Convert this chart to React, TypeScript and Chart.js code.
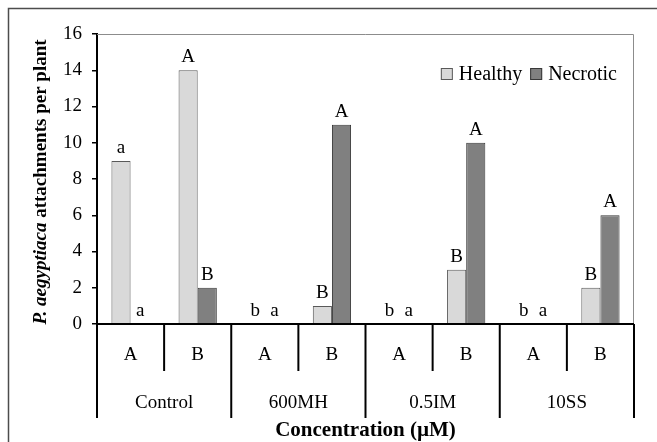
import React, { useEffect, useRef } from "react";
import { Chart, registerables } from "chart.js";

Chart.register(...registerables);

const categories = ["A", "B", "A", "B", "A", "B", "A", "B"];
const groups = ["Control", "600MH", "0.5IM", "10SS"];
const healthy = [9, 14, 0, 1, 0, 3, 0, 2];
const necrotic = [0, 2, 0, 11, 0, 10, 0, 6];
const healthyLetters = ["a", "A", "b", "B", "b", "B", "b", "B"];
const necroticLetters = ["a", "B", "a", "A", "a", "A", "a", "A"];
const seriesNames = ["Healthy", "Necrotic"];
const yMin = 0;
const yMax = 16;
const yStep = 2;
const yTitleItalic = "P. aegyptiaca";
const yTitleRest = " attachments per plant";
const xTitle = "Concentration (\u00b5M)";

const SERIF = "'Liberation Serif', 'Times New Roman', serif";
const HEALTHY_FILL = "#d9d9d9";
const HEALTHY_BORDER = "#595959";
const NECROTIC_FILL = "#808080";
const NECROTIC_BORDER = "#383838";

const decorPlugin = {
  id: "decor",
  afterDatasetsDraw(chart: any) {
    const ctx = chart.ctx as CanvasRenderingContext2D;
    const area = chart.chartArea;
    const x = chart.scales.x;
    const n = categories.length;
    const slot = (area.right - area.left) / n;

    ctx.save();
    // outer frame (top & left visible)
    ctx.strokeStyle = "#4d4d4d";
    ctx.lineWidth = 1.5;
    ctx.beginPath();
    ctx.moveTo(8.5, chart.height + 2);
    ctx.lineTo(8.5, 8.5);
    ctx.lineTo(chart.width + 2, 8.5);
    ctx.stroke();

    // plot area top/right border
    ctx.strokeStyle = "#8c8c8c";
    ctx.lineWidth = 1;
    ctx.beginPath();
    ctx.moveTo(area.left, area.top + 0.5);
    ctx.lineTo(area.right - 0.5, area.top + 0.5);
    ctx.lineTo(area.right - 0.5, area.bottom);
    ctx.stroke();

    // zero line and table lines
    ctx.strokeStyle = "#000";
    ctx.lineWidth = 2;
    ctx.beginPath();
    ctx.moveTo(area.left, area.bottom);
    ctx.lineTo(area.right, area.bottom);
    ctx.stroke();

    const innerDepth = 47;
    const groupDepth = 94;
    ctx.lineWidth = 2;
    for (let i = 0; i <= n; i++) {
      const px =
        i < n ? x.getPixelForValue(i) - slot / 2 : x.getPixelForValue(n - 1) + slot / 2;
      const depth = i % 2 === 0 ? groupDepth : innerDepth;
      ctx.beginPath();
      ctx.moveTo(px, area.bottom);
      ctx.lineTo(px, area.bottom + depth);
      ctx.stroke();
    }

    // category labels
    ctx.fillStyle = "#000";
    ctx.textAlign = "center";
    ctx.textBaseline = "middle";
    ctx.font = `19px ${SERIF}`;
    categories.forEach((c, i) => {
      ctx.fillText(c, x.getPixelForValue(i), area.bottom + 31);
    });
    groups.forEach((g, gi) => {
      const cx = (x.getPixelForValue(gi * 2) + x.getPixelForValue(gi * 2 + 1)) / 2;
      ctx.fillText(g, cx, area.bottom + 79);
    });

    // x title
    ctx.font = `bold 21px ${SERIF}`;
    ctx.fillText(xTitle, (area.left + area.right) / 2, area.bottom + 107);

    // y title
    ctx.save();
    ctx.translate(41, (area.top + area.bottom) / 2 + 3);
    ctx.rotate(-Math.PI / 2);
    ctx.textAlign = "left";
    ctx.font = `italic bold 19px ${SERIF}`;
    const w1 = ctx.measureText(yTitleItalic).width;
    ctx.font = `bold 19px ${SERIF}`;
    const w2 = ctx.measureText(yTitleRest).width;
    let sx = -(w1 + w2) / 2;
    ctx.font = `italic bold 19px ${SERIF}`;
    ctx.fillText(yTitleItalic, sx, 0);
    ctx.font = `bold 19px ${SERIF}`;
    ctx.fillText(yTitleRest, sx + w1, 0);
    ctx.restore();

    // bar letters
    ctx.font = `19px ${SERIF}`;
    ctx.textAlign = "center";
    ctx.textBaseline = "alphabetic";
    const letterSets = [healthyLetters, necroticLetters];
    chart.data.datasets.forEach((_: any, di: number) => {
      const meta = chart.getDatasetMeta(di);
      meta.data.forEach((bar: any, i: number) => {
        ctx.fillText(letterSets[di][i], bar.x, bar.y - 8);
      });
    });

    // legend
    ctx.font = `20px ${SERIF}`;
    ctx.textBaseline = "middle";
    ctx.textAlign = "left";
    const box = 12;
    const gapBoxText = 6;
    const gapItems = 8;
    const widths = chart.data.datasets.map((d: any) => ctx.measureText(d.label).width);
    let total = 0;
    widths.forEach((w: number, i: number) => {
      total += box + gapBoxText + w + (i < widths.length - 1 ? gapItems : 0);
    });
    let lx = area.right - 17 - total;
    const ly = 74;
    chart.data.datasets.forEach((d: any, i: number) => {
      ctx.fillStyle = d.backgroundColor;
      ctx.fillRect(lx, ly - box / 2, box, box);
      ctx.strokeStyle = d.borderColor;
      ctx.lineWidth = 1;
      ctx.strokeRect(lx + 0.5, ly - box / 2 + 0.5, box - 1, box - 1);
      ctx.fillStyle = "#000";
      ctx.fillText(d.label, lx + box + gapBoxText, ly + 1);
      lx += box + gapBoxText + widths[i] + gapItems;
    });

    ctx.restore();
  },
};

export default function App() {
  const ref = useRef<HTMLCanvasElement | null>(null);

  useEffect(() => {
    if (!ref.current) return;
    const chart = new Chart(ref.current, {
      type: "bar",
      data: {
        labels: categories,
        datasets: [
          {
            label: seriesNames[0],
            data: healthy,
            backgroundColor: HEALTHY_FILL,
            borderColor: HEALTHY_BORDER,
            borderWidth: 1,
            barPercentage: 1,
            categoryPercentage: 0.57,
          },
          {
            label: seriesNames[1],
            data: necrotic,
            backgroundColor: NECROTIC_FILL,
            borderColor: NECROTIC_BORDER,
            borderWidth: 1,
            barPercentage: 1,
            categoryPercentage: 0.57,
          },
        ],
      },
      options: {
        responsive: false,
        animation: false,
        devicePixelRatio: 1,
        layout: { padding: { left: 0, top: 34, right: 23, bottom: 118 } },
        plugins: {
          legend: { display: false },
          tooltip: { enabled: false },
        },
        scales: {
          x: { display: false },
          y: {
            min: yMin,
            max: yMax,
            afterFit: (scale: any) => {
              scale.width = 97;
            },
            ticks: {
              stepSize: yStep,
              color: "#000",
              padding: 10,
              font: { family: SERIF, size: 19 },
            },
            grid: {
              drawOnChartArea: false,
              drawTicks: true,
              tickLength: 5,
              color: "#000",
              lineWidth: 1.5,
            },
            border: { display: true, color: "#000", width: 2 },
          },
        },
      },
      plugins: [decorPlugin],
    });
    return () => chart.destroy();
  }, []);

  return (
    <div style={{ position: "fixed", left: 0, top: 0, width: 657, height: 442, background: "#fff" }}>
      <canvas ref={ref} width={657} height={442} />
    </div>
  );
}
